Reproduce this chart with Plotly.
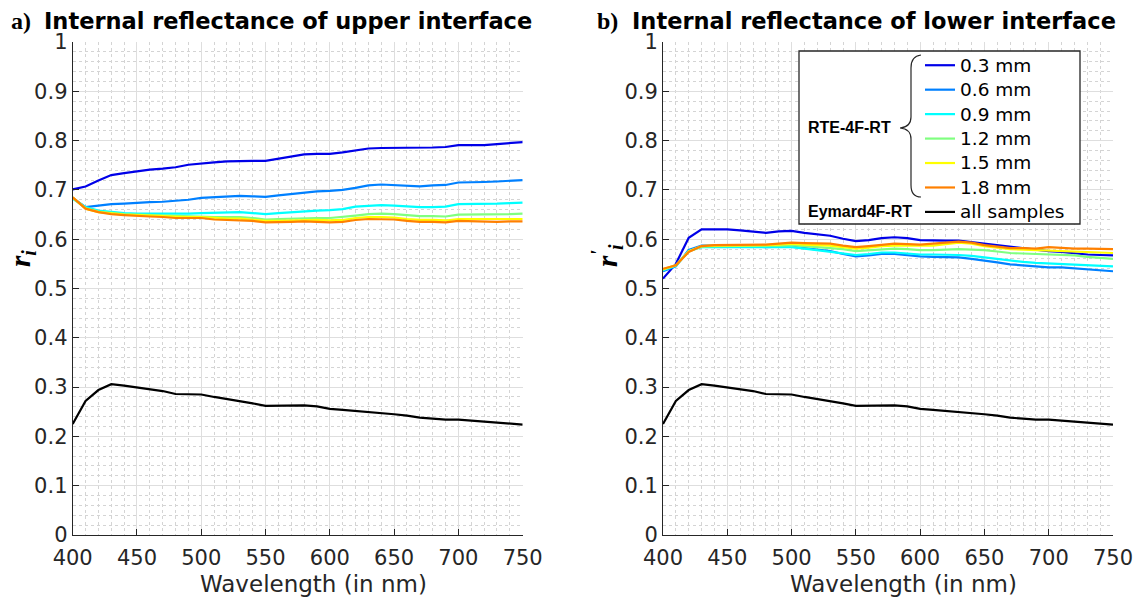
import plotly.graph_objects as go

# The page body has an 8px margin; the figure is sized so it fits inside the window.
OFF = 8
W, H = 1144 - OFF, 599 - OFF

wavelength = [400, 410, 420, 430, 440, 450, 460, 470, 480, 490, 500, 510, 520, 530, 540, 550,
              560, 570, 580, 590, 600, 610, 620, 630, 640, 650, 660, 670, 680, 690, 700, 710,
              720, 730, 740, 750]

thickness_labels = ["0.3 mm", "0.6 mm", "0.9 mm", "1.2 mm", "1.5 mm", "1.8 mm"]
colors = ["#0000e8", "#0080ff", "#00ffff", "#80ff80", "#ffff00", "#ff8000"]

# Upper interface (panel a)
upper_03 = [0.701, 0.707, 0.719, 0.730, 0.734, 0.738, 0.741, 0.743, 0.746, 0.751, 0.754, 0.756,
            0.758, 0.759, 0.759, 0.759, 0.763, 0.768, 0.772, 0.773, 0.773, 0.776, 0.780, 0.784,
            0.785, 0.785, 0.785, 0.785, 0.786, 0.787, 0.791, 0.791, 0.791, 0.793, 0.795, 0.797]
upper_06 = [0.684, 0.665, 0.668, 0.671, 0.672, 0.674, 0.675, 0.676, 0.678, 0.680, 0.684, 0.685,
            0.686, 0.688, 0.687, 0.686, 0.689, 0.692, 0.695, 0.697, 0.698, 0.700, 0.704, 0.709,
            0.711, 0.710, 0.708, 0.707, 0.709, 0.710, 0.715, 0.715, 0.716, 0.717, 0.719, 0.720]
upper_09 = [0.682, 0.665, 0.658, 0.655, 0.653, 0.652, 0.652, 0.651, 0.651, 0.652, 0.653, 0.654,
            0.655, 0.655, 0.653, 0.651, 0.653, 0.655, 0.657, 0.658, 0.659, 0.661, 0.666, 0.668,
            0.669, 0.668, 0.666, 0.665, 0.665, 0.666, 0.671, 0.671, 0.672, 0.672, 0.673, 0.674]
upper_12 = [0.684, 0.663, 0.656, 0.653, 0.651, 0.650, 0.649, 0.648, 0.647, 0.646, 0.646, 0.645,
            0.645, 0.645, 0.643, 0.640, 0.641, 0.642, 0.643, 0.643, 0.643, 0.645, 0.648, 0.651,
            0.652, 0.651, 0.649, 0.647, 0.647, 0.646, 0.650, 0.650, 0.651, 0.651, 0.651, 0.652]
upper_15 = [0.685, 0.662, 0.655, 0.652, 0.650, 0.649, 0.648, 0.647, 0.645, 0.645, 0.645, 0.643,
            0.642, 0.642, 0.640, 0.637, 0.637, 0.638, 0.639, 0.639, 0.638, 0.639, 0.643, 0.645,
            0.645, 0.644, 0.641, 0.639, 0.639, 0.638, 0.641, 0.641, 0.640, 0.640, 0.641, 0.641]
upper_18 = [0.685, 0.662, 0.655, 0.651, 0.649, 0.647, 0.646, 0.645, 0.643, 0.643, 0.643, 0.640,
            0.639, 0.639, 0.637, 0.634, 0.634, 0.635, 0.636, 0.635, 0.634, 0.635, 0.639, 0.641,
            0.641, 0.640, 0.637, 0.635, 0.635, 0.634, 0.637, 0.636, 0.635, 0.635, 0.636, 0.636]

# Lower interface (panel b)
lower_03 = [0.520, 0.550, 0.603, 0.620, 0.620, 0.620, 0.618, 0.615, 0.613, 0.616, 0.617, 0.613,
            0.610, 0.607, 0.601, 0.596, 0.598, 0.602, 0.604, 0.602, 0.598, 0.597, 0.597, 0.597,
            0.594, 0.591, 0.587, 0.584, 0.582, 0.579, 0.576, 0.574, 0.571, 0.569, 0.568, 0.567]
lower_06 = [0.535, 0.545, 0.578, 0.587, 0.587, 0.587, 0.586, 0.585, 0.584, 0.585, 0.585, 0.582,
            0.579, 0.576, 0.570, 0.565, 0.567, 0.570, 0.570, 0.567, 0.565, 0.564, 0.564, 0.563,
            0.560, 0.557, 0.553, 0.549, 0.547, 0.544, 0.543, 0.543, 0.541, 0.538, 0.537, 0.535]
lower_09 = [0.537, 0.546, 0.576, 0.584, 0.584, 0.584, 0.584, 0.584, 0.583, 0.583, 0.584, 0.581,
            0.578, 0.575, 0.572, 0.568, 0.570, 0.573, 0.573, 0.571, 0.569, 0.569, 0.569, 0.568,
            0.566, 0.563, 0.560, 0.556, 0.554, 0.552, 0.551, 0.550, 0.549, 0.547, 0.546, 0.545]
lower_12 = [0.538, 0.547, 0.575, 0.585, 0.586, 0.586, 0.586, 0.586, 0.586, 0.587, 0.588, 0.586,
            0.585, 0.583, 0.580, 0.576, 0.578, 0.580, 0.581, 0.580, 0.578, 0.578, 0.579, 0.580,
            0.579, 0.578, 0.575, 0.572, 0.571, 0.570, 0.570, 0.569, 0.567, 0.564, 0.562, 0.560]
lower_15 = [0.539, 0.547, 0.575, 0.586, 0.587, 0.587, 0.587, 0.587, 0.588, 0.589, 0.591, 0.589,
            0.588, 0.587, 0.584, 0.581, 0.583, 0.586, 0.587, 0.587, 0.586, 0.587, 0.590, 0.593,
            0.591, 0.586, 0.583, 0.580, 0.579, 0.578, 0.578, 0.577, 0.576, 0.574, 0.573, 0.572]
lower_18 = [0.540, 0.547, 0.574, 0.586, 0.588, 0.588, 0.588, 0.588, 0.589, 0.591, 0.593, 0.592,
            0.591, 0.591, 0.587, 0.584, 0.586, 0.589, 0.591, 0.590, 0.589, 0.591, 0.593, 0.595,
            0.593, 0.588, 0.585, 0.582, 0.582, 0.581, 0.584, 0.582, 0.581, 0.581, 0.580, 0.580]

# Eymard4F-RT (all samples) -- identical in both panels
eymard = [0.225, 0.272, 0.294, 0.306, 0.303, 0.299, 0.296, 0.292, 0.286, 0.286, 0.285, 0.280,
          0.276, 0.271, 0.267, 0.262, 0.262, 0.263, 0.263, 0.261, 0.256, 0.254, 0.252, 0.250,
          0.247, 0.245, 0.242, 0.238, 0.236, 0.234, 0.234, 0.232, 0.230, 0.227, 0.226, 0.224]

upper_series = [upper_03, upper_06, upper_09, upper_12, upper_15, upper_18]
lower_series = [lower_03, lower_06, lower_09, lower_12, lower_15, lower_18]

x_ticks = [400, 450, 500, 550, 600, 650, 700, 750]
y_ticks = [0, 0.1, 0.2, 0.3, 0.4, 0.5, 0.6, 0.7, 0.8, 0.9, 1]
y_tick_text = ["0", "0.1", "0.2", "0.3", "0.4", "0.5", "0.6", "0.7", "0.8", "0.9", "1"]


def px(x):
    return (x - OFF) / W


def py(y):
    return 1 - (y - OFF) / H


def legend_name(s):
    return f'<span style="font-size:18.5px">{s}</span>'


fig = go.Figure()

for s, c, lab in zip(upper_series, colors, thickness_labels):
    fig.add_trace(go.Scatter(x=wavelength, y=s, mode="lines", line=dict(color=c, width=2.2),
                             showlegend=False, xaxis="x", yaxis="y", name=lab))
fig.add_trace(go.Scatter(x=wavelength, y=eymard, mode="lines", line=dict(color="black", width=2.2),
                         showlegend=False, xaxis="x", yaxis="y", name="all samples"))

for s, c, lab in zip(lower_series, colors, thickness_labels):
    fig.add_trace(go.Scatter(x=wavelength, y=s, mode="lines", line=dict(color=c, width=2.2),
                             showlegend=True, xaxis="x2", yaxis="y2", name=legend_name(lab)))
fig.add_trace(go.Scatter(x=wavelength, y=eymard, mode="lines", line=dict(color="black", width=2.2),
                         showlegend=True, xaxis="x2", yaxis="y2", name=legend_name("all samples")))

TXT = "#262626"
tickfont = dict(family="DejaVu Sans", size=21, color=TXT)

xax = dict(range=[400, 750], tickvals=x_ticks, ticks="inside", ticklen=6, tickcolor=TXT,
           showline=True, linecolor=TXT, linewidth=1, showgrid=True, gridcolor="#dedede",
           gridwidth=1, zeroline=False, tickfont=tickfont, automargin=False, ticklabelstandoff=4,
           minor=dict(dtick=10, showgrid=True, gridcolor="#d4d4d4", griddash="dot", gridwidth=1))
yax = dict(range=[0, 1], tickvals=y_ticks, ticktext=y_tick_text, ticks="inside", ticklen=6,
           tickcolor=TXT, showline=True, linecolor=TXT, linewidth=1, showgrid=True,
           gridcolor="#dedede", gridwidth=1, zeroline=False, tickfont=tickfont, automargin=False,
           minor=dict(dtick=0.02, showgrid=True, gridcolor="#d4d4d4", griddash="dot", gridwidth=1))

yb, yt = py(535), py(42)
fig.update_layout(
    width=W, height=H, margin=dict(l=0, r=0, t=0, b=0, autoexpand=False),
    paper_bgcolor="white", plot_bgcolor="white",
    xaxis=dict(xax, domain=[px(72.7), px(522.7)], anchor="y"),
    yaxis=dict(yax, domain=[yb, yt], anchor="x"),
    xaxis2=dict(xax, domain=[px(663), px(1113)], anchor="y2"),
    yaxis2=dict(yax, domain=[yb, yt], anchor="x2"),
    legend=dict(x=px(920), y=py(48), xanchor="left", yanchor="top",
                bgcolor="rgba(0,0,0,0)", borderwidth=0,
                font=dict(family="DejaVu Sans", size=16.5, color="black"),
                tracegroupgap=0),
    showlegend=True,
)

# Legend frame
fig.add_shape(type="rect", xref="paper", yref="paper", x0=px(799), x1=px(1080), y0=py(224), y1=py(51),
              line=dict(color=TXT, width=1.3), fillcolor="white", layer="above")

# Brace
pts = [("M", 921, 55), ("Q", 911, 56, 911, 68), ("L", 911, 117), ("Q", 911, 127, 900, 128),
       ("Q", 911, 129, 911, 139), ("L", 911, 185), ("Q", 911, 197, 921, 197)]
path = ""
for p in pts:
    cmd = p[0]
    coords = p[1:]
    parts = []
    for i in range(0, len(coords), 2):
        parts.append(f"{px(coords[i]):.5f},{py(coords[i + 1]):.5f}")
    path += cmd + " " + " ".join(parts) + " "
fig.add_shape(type="path", xref="paper", yref="paper", path=path.strip(),
              line=dict(color=TXT, width=1.2), layer="above")

annots = [
    dict(text="<b>RTE-4F-RT</b>", x=px(806), y=py(128), xanchor="left", yanchor="middle",
         font=dict(family="Liberation Sans", size=16, color="black")),
    dict(text="<b>Eymard4F-RT</b>", x=px(806), y=py(212), xanchor="left", yanchor="middle",
         font=dict(family="Liberation Sans", size=16, color="black")),
    dict(text="<b>a)</b>", x=px(9), y=py(21), xanchor="left", yanchor="middle",
         font=dict(family="Liberation Serif", size=24, color="black")),
    dict(text="<b>b)</b>", x=px(595), y=py(21), xanchor="left", yanchor="middle",
         font=dict(family="Liberation Serif", size=24, color="black")),
    dict(text="<b>Internal reflectance of upper interface</b>", x=px(42), y=py(21), xanchor="left",
         yanchor="middle", font=dict(family="DejaVu Sans", size=22.5, color="black")),
    dict(text="<b>Internal reflectance of lower interface</b>", x=px(630), y=py(21), xanchor="left",
         yanchor="middle", font=dict(family="DejaVu Sans", size=22.5, color="black")),
    dict(text="Wavelength (in nm)", x=px(313), y=py(584), xanchor="center", yanchor="middle",
         font=dict(family="DejaVu Sans", size=23, color=TXT)),
    dict(text="Wavelength (in nm)", x=px(903), y=py(584), xanchor="center", yanchor="middle",
         font=dict(family="DejaVu Sans", size=23, color=TXT)),
    dict(text="<b><i>r<sub>i</sub></i></b>", x=px(22), y=py(258), xanchor="center", yanchor="middle",
         textangle=-90, font=dict(family="Liberation Serif", size=29, color="black")),
    dict(text="<b><i>r<sup>'</sup><sub>i</sub></i></b>", x=px(607), y=py(256), xanchor="center",
         yanchor="middle", textangle=-90, font=dict(family="Liberation Serif", size=29, color="black")),
]
for a in annots:
    fig.add_annotation(xref="paper", yref="paper", showarrow=False, **a)

fig.write_html("out.html")
